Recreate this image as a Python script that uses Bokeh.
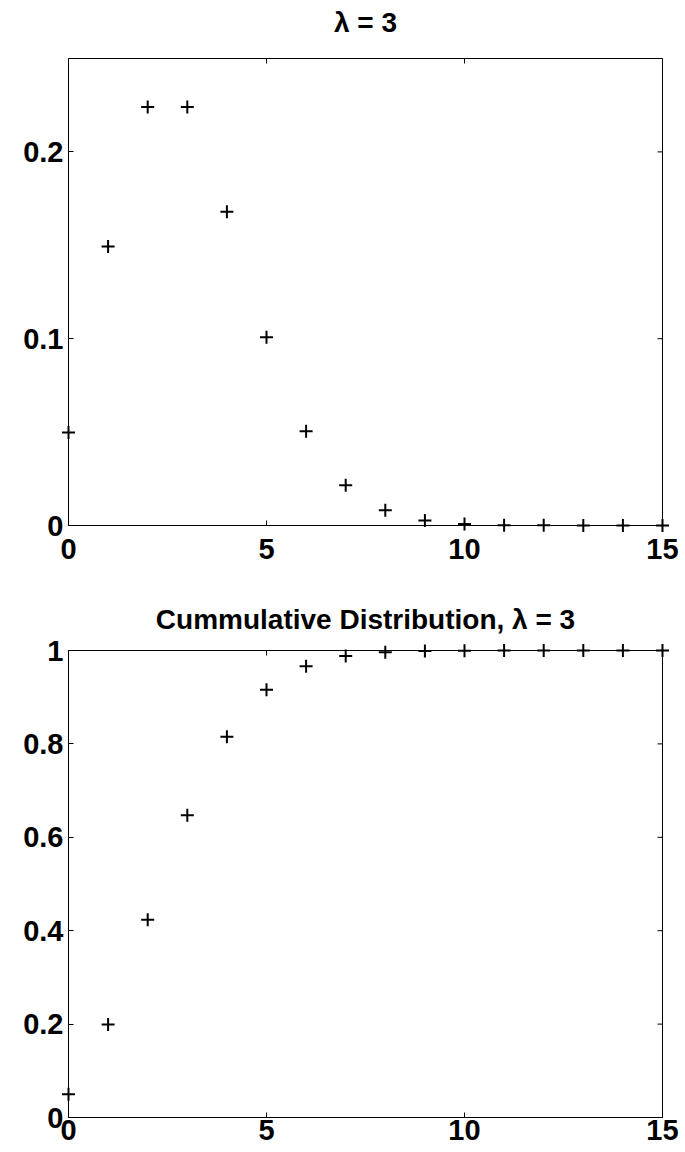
import math
from bokeh.plotting import figure
from bokeh.layouts import column
from bokeh.models import Range1d, LinearAxis, FixedTicker, CustomJSTickFormatter
from bokeh.core.properties import value
from bokeh.embed import file_html
from bokeh.resources import INLINE

# ---- data ----
k_values = list(range(16))
pmf_values = [0.0498, 0.1494, 0.2240, 0.2240, 0.1680, 0.1008, 0.0504, 0.0216,
              0.0081, 0.0027, 0.0008, 0.0002, 0.0001, 0.0000, 0.0000, 0.0000]
cdf_values = [0.0498, 0.1991, 0.4232, 0.6472, 0.8153, 0.9161, 0.9665, 0.9881,
              0.9962, 0.9989, 0.9997, 0.9999, 1.0000, 1.0000, 1.0000, 1.0000]
x_ticks = [0, 5, 10, 15]
pmf_ticks = [0, 0.1, 0.2]
cdf_ticks = [0, 0.2, 0.4, 0.6, 0.8, 1]
title_pmf = "λ = 3"
title_cdf = "Cummulative Distribution, λ = 3"

FONT = "Liberation Sans"
TICK_FS = "29px"
TITLE_FS = "28px"


def make_fig(title, yvals, yticks, ymax, height, top, bottom, frame_h, xstand, tgap):
    xmin, xmax = x_ticks[0], x_ticks[-1]
    p = figure(width=685, height=height,
               x_range=Range1d(xmin, xmax), y_range=Range1d(0, ymax),
               output_backend="svg", toolbar_location=None,
               min_border_left=68, min_border_right=23,
               min_border_top=top, min_border_bottom=bottom,
               x_axis_location=None, y_axis_location=None)
    p.frame_height = frame_h
    p.frame_width = 594
    p.background_fill_color = "white"
    p.border_fill_color = "white"
    p.outline_line_color = "black"
    p.outline_line_width = 1
    p.xgrid.visible = False
    p.ygrid.visible = False

    fmt = CustomJSTickFormatter(code="return String(Math.round(tick*10)/10);")

    def style(ax, ticks, standoff):
        ax.ticker = FixedTicker(ticks=ticks)
        ax.formatter = fmt
        ax.minor_tick_line_color = None
        ax.major_tick_in = 5
        ax.major_tick_out = 0
        ax.major_tick_line_color = "black"
        ax.axis_line_color = "black"
        ax.axis_line_width = 1
        ax.major_label_text_font = FONT
        ax.major_label_text_font_style = "bold"
        ax.major_label_text_color = "black"
        ax.major_label_text_font_size = TICK_FS
        ax.major_label_standoff = standoff

    bx = LinearAxis(); style(bx, x_ticks, xstand); p.add_layout(bx, "below")
    ly = LinearAxis(); style(ly, yticks, 5); p.add_layout(ly, "left")

    # mirrored inward ticks on the top and right edges (half outside is clipped)
    p.scatter(x_ticks, [ymax] * len(x_ticks), marker="dash", angle=math.pi / 2,
              size=10, line_color="black", line_width=1)
    p.scatter([xmax] * len(yticks), yticks, marker="dash",
              size=10, line_color="black", line_width=1)

    p.scatter(k_values, yvals, marker="cross", size=13, line_width=2,
              line_color="black", level="overlay")

    # title, centred over the frame
    p.text(x=[(xmin + xmax) / 2], y=[ymax], text=[title], y_offset=-tgap,
           text_align="center", text_baseline="middle",
           text_font=value(FONT), text_font_style="bold",
           text_font_size=TITLE_FS, text_color="black", level="overlay")
    return p


p1 = make_fig(title_pmf, pmf_values, pmf_ticks, 0.25, 570, 58, 45, 467, 13, 36)
p2 = make_fig(title_cdf, cdf_values, cdf_ticks, 1.0, 582, 80, 35, 467, 2, 31)

layout = column(p1, p2, spacing=0)
open("out.html", "w").write(file_html(layout, INLINE))
